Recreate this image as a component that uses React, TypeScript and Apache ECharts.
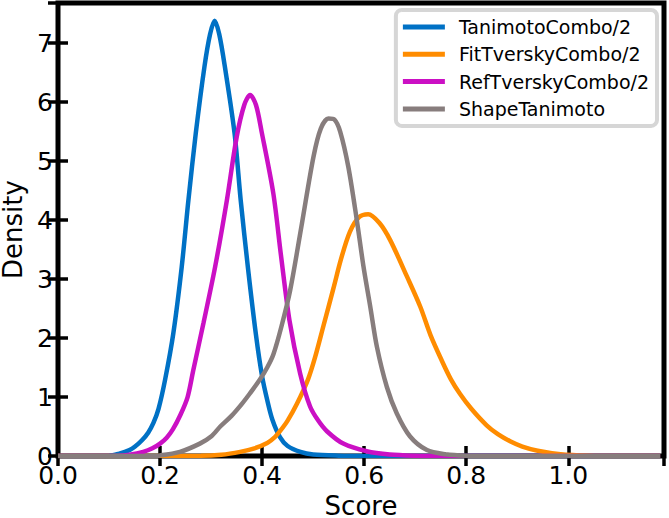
import React, { useEffect, useRef } from "react";
import * as echarts from "echarts";

const seriesNames = ["TanimotoCombo/2", "FitTverskyCombo/2", "RefTverskyCombo/2", "ShapeTanimoto"];
const xTickValues = ["0.0", "0.2", "0.4", "0.6", "0.8", "1.0"];
const yTickValues = ["0", "1", "2", "3", "4", "5", "6", "7"];

const tanimotoCombo = [
  [0.0, 0], [0.1, 0.003], [0.12, 0.04], [0.14, 0.1], [0.151, 0.16], [0.165, 0.27], [0.177, 0.4],
  [0.187, 0.56], [0.197, 0.8], [0.21, 1.3], [0.226, 2.08], [0.2425, 3.21], [0.2556, 4.34],
  [0.27, 5.47], [0.287, 6.6], [0.298, 7.15], [0.307, 7.38], [0.316, 7.15], [0.327, 6.6],
  [0.346, 5.47], [0.358, 4.34], [0.372, 3.21], [0.388, 2.05], [0.4, 1.35], [0.41, 0.95],
  [0.42, 0.62], [0.435, 0.32], [0.45, 0.17], [0.475, 0.07], [0.5, 0.025], [0.55, 0.005],
  [0.6, 0], [1.18, 0],
];

const fitTverskyCombo = [
  [0.0, 0], [0.28, 0.003], [0.32, 0.02], [0.357, 0.07], [0.385, 0.13], [0.41, 0.22], [0.425, 0.32],
  [0.435, 0.42], [0.45, 0.6], [0.468, 0.88], [0.49, 1.3], [0.504, 1.68], [0.52, 2.2], [0.54, 2.85],
  [0.555, 3.35], [0.572, 3.8], [0.59, 4.05], [0.608, 4.1], [0.63, 3.95], [0.651, 3.66],
  [0.684, 3.04], [0.71, 2.53], [0.73, 2.05], [0.752, 1.62], [0.77, 1.3], [0.788, 1.05],
  [0.81, 0.8], [0.84, 0.52], [0.862, 0.37], [0.886, 0.25], [0.91, 0.16], [0.94, 0.09],
  [0.985, 0.03], [1.04, 0.005], [1.1, 0], [1.18, 0],
];

const refTverskyCombo = [
  [0.0, 0], [0.12, 0.003], [0.14, 0.02], [0.167, 0.07], [0.185, 0.13], [0.2, 0.21], [0.213, 0.31],
  [0.225, 0.45], [0.24, 0.7], [0.254, 1.0], [0.265, 1.45], [0.285, 2.25], [0.308, 3.21],
  [0.331, 4.34], [0.35, 5.4], [0.365, 5.95], [0.3765, 6.12], [0.388, 5.95], [0.399, 5.5],
  [0.422, 4.45], [0.437, 3.4], [0.4536, 2.3], [0.4745, 1.4], [0.494, 0.84], [0.51, 0.6],
  [0.527, 0.42], [0.559, 0.21], [0.605, 0.08], [0.65, 0.025], [0.7, 0.005], [0.75, 0], [1.18, 0],
];

const shapeTanimoto = [
  [0.0, 0], [0.18, 0.003], [0.2, 0.01], [0.239, 0.07], [0.278, 0.21], [0.3, 0.33], [0.318, 0.5],
  [0.34, 0.68], [0.36, 0.88], [0.376, 1.06], [0.396, 1.3], [0.41, 1.5], [0.422, 1.72],
  [0.438, 2.2], [0.455, 2.81], [0.478, 3.94], [0.5006, 5.07], [0.515, 5.55], [0.53, 5.72],
  [0.542, 5.7], [0.553, 5.5], [0.569, 4.9], [0.5856, 4.0], [0.5987, 3.21], [0.612, 2.53],
  [0.625, 1.85], [0.6445, 1.17], [0.664, 0.72], [0.69, 0.33], [0.723, 0.1], [0.76, 0.03],
  [0.8, 0.005], [0.85, 0], [1.18, 0],
];

const seriesData = [tanimotoCombo, fitTverskyCombo, refTverskyCombo, shapeTanimoto];
const seriesColors = ["#0071C5", "#FF8C00", "#CB10C4", "#877D7D"];

const FONT = "DejaVu Sans";
const X_MAX = 1.1876;
const Y_MAX = 7.68;

export default function App() {
  const ref = useRef<HTMLDivElement>(null);
  useEffect(() => {
    if (!ref.current) return;
    const chart = echarts.init(ref.current, undefined, { renderer: "svg" });
    const xFmt = (v: number) => {
      const k = Math.round(v / 0.2);
      if (Math.abs(v / 0.2 - k) > 1e-6 || k >= xTickValues.length) return "";
      return xTickValues[k];
    };
    const yFmt = (v: number) => {
      const k = Math.round(v);
      if (Math.abs(v - k) > 1e-6 || k >= yTickValues.length) return "";
      return yTickValues[k];
    };
    const tickStyle = { show: true, inside: true, length: 10, lineStyle: { color: "#000", width: 3.5 } };
    chart.setOption({
      animation: false,
      backgroundColor: "#fff",
      grid: {
        left: 58,
        top: 3,
        width: 606,
        height: 453,
        outerBoundsMode: "none",
        containLabel: false,
        show: true,
        z: 3,
        borderColor: "#000",
        borderWidth: 5,
        backgroundColor: "transparent",
      },
      legend: {
        orient: "vertical",
        right: 12,
        top: 10,
        padding: [7, 8, 7, 7],
        itemGap: 7.3,
        itemWidth: 42,
        itemHeight: 5,
        icon: "rect",
        selectedMode: false,
        backgroundColor: "rgba(255,255,255,0.85)",
        borderColor: "#d6d6d6",
        borderWidth: 4,
        borderRadius: 6,
        z: 10,
        textStyle: { fontFamily: FONT, fontSize: 19, color: "#000", lineHeight: 20, padding: [0, 0, 0, 9] },
        data: seriesNames,
      },
      xAxis: [
        {
          type: "value",
          min: 0,
          max: X_MAX,
          interval: 0.2,
          position: "bottom",
          name: "Score",
          nameLocation: "middle",
          nameGap: 35,
          nameTextStyle: { fontFamily: FONT, fontSize: 26, color: "#000" },
          axisLine: { show: false },
          axisTick: tickStyle,
          splitLine: { show: false },
          axisLabel: {
            fontFamily: FONT,
            fontSize: 25,
            color: "#000",
            margin: 7,
            showMaxLabel: false,
            formatter: xFmt,
          },
        },
        {
          type: "value",
          min: 0,
          max: X_MAX,
          interval: 0.2,
          position: "top",
          axisLine: { show: false },
          axisTick: tickStyle,
          splitLine: { show: false },
          axisLabel: { show: false },
        },
      ],
      yAxis: [
        {
          type: "value",
          min: 0,
          max: Y_MAX,
          interval: 1,
          position: "left",
          name: "Density",
          nameLocation: "middle",
          nameGap: 30,
          nameTextStyle: { fontFamily: FONT, fontSize: 26, color: "#000" },
          axisLine: { show: false },
          axisTick: tickStyle,
          splitLine: { show: false },
          axisLabel: {
            fontFamily: FONT,
            fontSize: 25,
            color: "#000",
            margin: 5,
            showMaxLabel: false,
            formatter: yFmt,
          },
        },
        {
          type: "value",
          min: 0,
          max: Y_MAX,
          interval: 1,
          position: "right",
          axisLine: { show: false },
          axisTick: tickStyle,
          splitLine: { show: false },
          axisLabel: { show: false },
        },
      ],
      series: seriesNames.map((name, i) => ({
        name,
        type: "line",
        xAxisIndex: 0,
        yAxisIndex: 0,
        data: seriesData[i],
        showSymbol: false,
        smooth: 0.3,
        color: seriesColors[i],
        lineStyle: { color: seriesColors[i], width: 4.5 },
        itemStyle: { color: seriesColors[i] },
      })),
    });
    return () => chart.dispose();
  }, []);
  return <div ref={ref} style={{ width: 669, height: 518, position: "absolute", left: 0, top: 0 }} />;
}
